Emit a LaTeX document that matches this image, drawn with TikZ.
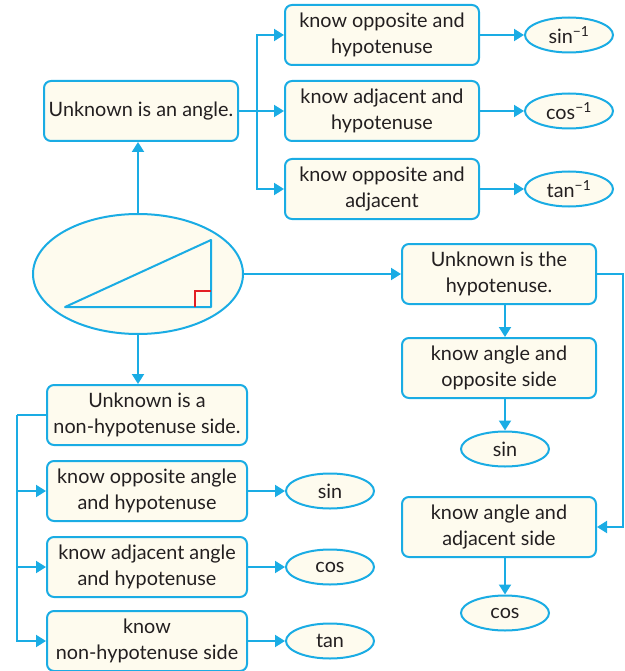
\documentclass[tikz,border=0pt]{standalone}
\usepackage{fontspec}
\setmainfont{Lato}
\usetikzlibrary{
  arrows.meta,
  positioning,
  shapes.geometric
}
\definecolor{linkblue}{RGB}{26,172,228}
\definecolor{cream}{RGB}{254,251,238}
\definecolor{ink}{RGB}{35,31,32}
\definecolor{markred}{RGB}{227,30,36}
\tikzset{
  >={Triangle[length=10pt,width=12pt]},
  link/.style={->,line width=2pt,draw=linkblue},
  rail/.style={line width=2pt,draw=linkblue},
  box/.style={
    draw=linkblue,
    line width=2pt,
    fill=cream,
    rounded corners=7pt,
    align=center,
    text=ink,
    minimum width=194pt,
    minimum height=60pt,
    inner sep=2pt
  },
  result/.style={
    ellipse,
    draw=linkblue,
    line width=2pt,
    fill=cream,
    text=ink,
    minimum width=88pt,
    minimum height=35pt,
    inner sep=0pt
  }
}

\begin{document}
\begin{tikzpicture}[x=1pt,y=-1pt,font=\fontsize{19.8}{25.5}\selectfont]
  \useasboundingbox (0,0) rectangle (624,671);

  % the triangle in the middle
  \node[result,minimum width=210pt,minimum height=120pt] (tri) at (138,274) {};
  \draw[line width=2pt,draw=linkblue,line join=round] (65,307) -- (211,240) -- (211,307) -- cycle;
  \draw[line width=1.6pt,draw=markred] (195,307) -- (195,291) -- (211,291);

  % unknown angle
  \node[box] (angle) at (141,111) {Unknown is an angle.};
  \node[box] (oppHyp) at (382,35) {know opposite and\\hypotenuse};
  \node[box,below=14pt of oppHyp] (adjHyp) {know adjacent and\\hypotenuse};
  \node[box,below=16pt of adjHyp] (oppAdj) {know opposite and\\adjacent};
  \node[result,right=44pt of oppHyp] (invSin) {sin\textsuperscript{−1}};
  \node[result,right=44pt of adjHyp] (invCos) {cos\textsuperscript{−1}};
  \node[result,right=44pt of oppAdj] (invTan) {tan\textsuperscript{−1}};

  % unknown hypotenuse
  \node[box] (hyp) at (499,274) {Unknown is the\\hypotenuse.};
  \node[box,below=32pt of hyp] (oppSide) {know angle and\\opposite side};
  \node[result] (hypSin) at (505,449) {sin};
  \node[box] (adjSide) at (499,527) {know angle and\\adjacent side};
  \node[result] (hypCos) at (505,613) {cos};

  % unknown non-hypotenuse side
  \node[box,minimum width=200pt] (side) at (147,415) {Unknown is a\\non-hypotenuse side.};
  \node[box,minimum width=200pt] (sideOpp) at (147,491) {know opposite angle\\and hypotenuse};
  \node[box,minimum width=200pt] (sideAdj) at (147,567) {know adjacent angle\\and hypotenuse};
  \node[box,minimum width=200pt] (sideKnow) at (147,641) {know\\non-hypotenuse side};
  \node[result,right=37pt of sideOpp] (sideSin) {sin};
  \node[result,right=37pt of sideAdj] (sideCos) {cos};
  \node[result,right=37pt of sideKnow] (sideTan) {tan};

  \coordinate (forkTop) at (257,111);
  \coordinate (railRight) at (623,274);
  \coordinate (railLeft) at (17,415);

  \draw[link] (tri.north) -- (tri.north |- angle.south);
  \draw[link] (tri.south) -- (tri.south |- side.north);
  \draw[link] (tri.east) -- (hyp.west);

  \draw[link] (angle.east) -- (adjHyp.west);
  \draw[link] (forkTop) |- (oppHyp.west);
  \draw[link] (forkTop) |- (oppAdj.west);
  \draw[link] (oppHyp) -- (invSin);
  \draw[link] (adjHyp) -- (invCos);
  \draw[link] (oppAdj) -- (invTan);

  \draw[link] (hyp.south -| hypSin) -- (oppSide.north -| hypSin);
  \draw[link] (oppSide.south -| hypSin) -- (hypSin);
  \draw[link] (adjSide.south -| hypCos) -- (hypCos);
  \draw[link] (hyp.east) -- (railRight) |- (adjSide.east);

  \draw[rail] (side.west) -- (railLeft);
  \draw[link] (railLeft) |- (sideOpp.west);
  \draw[link] (railLeft) |- (sideAdj.west);
  \draw[link] (railLeft) |- (sideKnow.west);
  \draw[link] (sideOpp) -- (sideSin);
  \draw[link] (sideAdj) -- (sideCos);
  \draw[link] (sideKnow) -- (sideTan);
\end{tikzpicture}
\end{document}
